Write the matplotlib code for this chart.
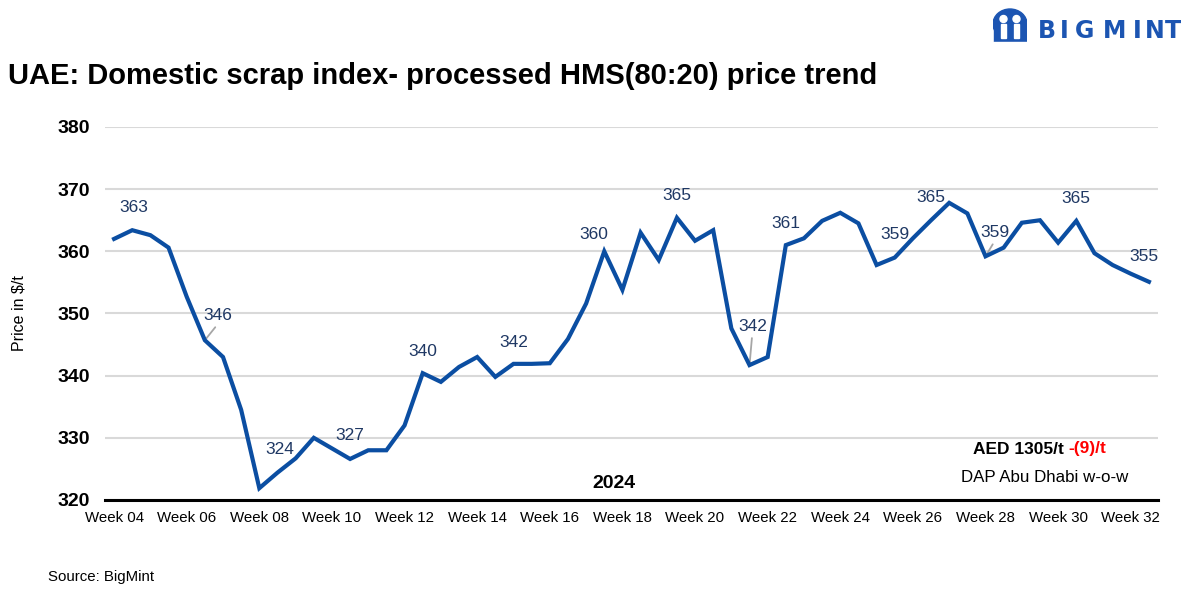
import matplotlib
matplotlib.use("Agg")
import matplotlib.pyplot as plt
from matplotlib.patches import Ellipse, Rectangle

# ---------------- data ----------------
week_labels = ["Week 04", "Week 06", "Week 08", "Week 10", "Week 12", "Week 14",
               "Week 16", "Week 18", "Week 20", "Week 22", "Week 24", "Week 26",
               "Week 28", "Week 30", "Week 32"]
prices = [362.0, 363.4, 362.6, 360.6, 352.7, 345.7, 343.0, 334.5, 321.9, 324.4,
          326.7, 330.0, 328.3, 326.6, 328.0, 328.0, 332.0, 340.4, 339.0, 341.4,
          343.0, 339.8, 341.9, 341.9, 342.0, 345.9, 351.6, 360.0, 353.8, 363.0,
          358.6, 365.4, 361.7, 363.4, 347.6, 341.7, 343.0, 361.0, 362.1, 364.9,
          366.2, 364.5, 357.8, 359.0, 362.1, 365.0, 367.8, 366.1, 359.2, 360.6,
          364.6, 365.0, 361.4, 364.9, 359.7, 357.8, 356.4, 355.1]
label_idx = [1, 5, 9, 13, 17, 22, 27, 31, 35, 37, 43, 45, 48, 53, 57]
label_txt = ["363", "346", "324", "327", "340", "342", "360", "365", "342", "361",
             "359", "365", "359", "365", "355"]
# label offsets in pixels (dx, dy) and whether a leader line is drawn
label_off = [(2, 23), (13, 25), (2, 23), (0, 23), (0, 22), (0, 21), (-10, 17), (0, 22),
             (3, 39), (0, 22), (0, 23), (0, 23), (9, 24), (0, 22), (-5, 25)]
leader = [False, True, False, False, False, False, False, False,
          True, False, False, False, True, False, False]
y_ticks = [320, 330, 340, 350, 360, 370, 380]

LINE = "#0b4ea2"
NAVY = "#1f3864"
LOGO = "#1c55b2"
plt.rcParams["font.family"] = ["Liberation Sans", "DejaVu Sans"]

fig = plt.figure(figsize=(12, 6), dpi=100)
ax = fig.add_axes([105 / 1200, 1 - 500 / 600, (1158 - 105) / 1200, (500 - 127) / 600])

x = list(range(len(prices)))
ax.plot(x, prices, color=LINE, lw=3.0, solid_joinstyle="miter", zorder=3)

ax.set_xlim(-0.5, len(prices) - 0.5)
ax.set_ylim(320, 380)
ax.set_yticks(y_ticks)
ax.set_yticklabels([str(v) for v in y_ticks], fontsize=14, fontweight="bold")
ax.set_xticks(range(0, len(prices), 4))
ax.set_xticklabels(week_labels, fontsize=10.8)
ax.tick_params(axis="both", length=0)
ax.tick_params(axis="y", pad=11)
ax.tick_params(axis="x", pad=8)
ax.grid(axis="y", color="#d9d9d9", lw=1.5, zorder=0)
for s in ["left", "right", "top"]:
    ax.spines[s].set_visible(False)
ax.spines["bottom"].set_linewidth(2.2)
ax.spines["bottom"].set_color("black")
ax.spines["bottom"].set_zorder(4)
ax.set_ylabel("Price in $/t", fontsize=11.5, labelpad=22)

for i, t, (dx, dy), ld in zip(label_idx, label_txt, label_off, leader):
    ax.annotate(t, (i, prices[i]), xytext=(dx, dy), textcoords="offset pixels",
                ha="center", va="center", fontsize=12.5, color=NAVY, zorder=5)
    if ld:
        ax.annotate("", (i, prices[i]), xytext=(dx * 0.8, dy - 12), textcoords="offset pixels",
                    arrowprops=dict(arrowstyle="-", color="#a6a6a6", lw=1.3,
                                    shrinkA=0, shrinkB=0), zorder=2)

# text blocks
fig.text(614 / 1200, 1 - 483 / 600, "2024", fontsize=14, fontweight="bold",
         ha="center", va="center")
fig.text(1064 / 1200, 1 - 449 / 600, "AED 1305/t", fontsize=12.5, fontweight="bold",
         ha="right", va="center")
fig.text(1068 / 1200, 1 - 449 / 600, "-(9)/t", fontsize=12.5, fontweight="bold",
         color="red", ha="left", va="center")
fig.text(1045 / 1200, 1 - 478 / 600, "DAP Abu Dhabi w-o-w", fontsize=12.2,
         ha="center", va="center")

fig.text(8 / 1200, 1 - 76 / 600, "UAE: Domestic scrap index- processed HMS(80:20) price trend",
         fontsize=21, fontweight="bold", ha="left", va="center")
fig.text(48 / 1200, 1 - 577 / 600, "Source: BigMint", fontsize=10.8, ha="left", va="center")

# logo
logo_letters = ["B", "I", "G", "M", "I", "N", "T"]
logo_x = [1047, 1064, 1085, 1115, 1137, 1155, 1173]
for ch, lx in zip(logo_letters, logo_x):
    fig.text(lx / 1200, 1 - 31 / 600, ch, fontsize=17, fontweight="bold",
             family="DejaVu Sans", color=LOGO, ha="center", va="center")
lax = fig.add_axes([993 / 1200, 1 - 46 / 600, 34 / 1200, 38 / 600])
lax.set_xlim(0, 34)
lax.set_ylim(0, 38)
lax.axis("off")
lax.add_patch(Ellipse((17, 22), 34, 30, color=LOGO))
lax.add_patch(Rectangle((1, 4), 32, 18, color=LOGO))
for cx in (10.5, 23.5):
    lax.add_patch(Ellipse((cx, 27), 7, 7, color="white"))
    lax.add_patch(Rectangle((cx - 2.7, 8), 5.4, 14, color="white"))
lax.add_patch(Rectangle((15.5, 0), 3, 22, color=LOGO))
lax.add_patch(Rectangle((0, 0), 34, 4, color="white"))

fig.savefig("out.png", dpi=100)
